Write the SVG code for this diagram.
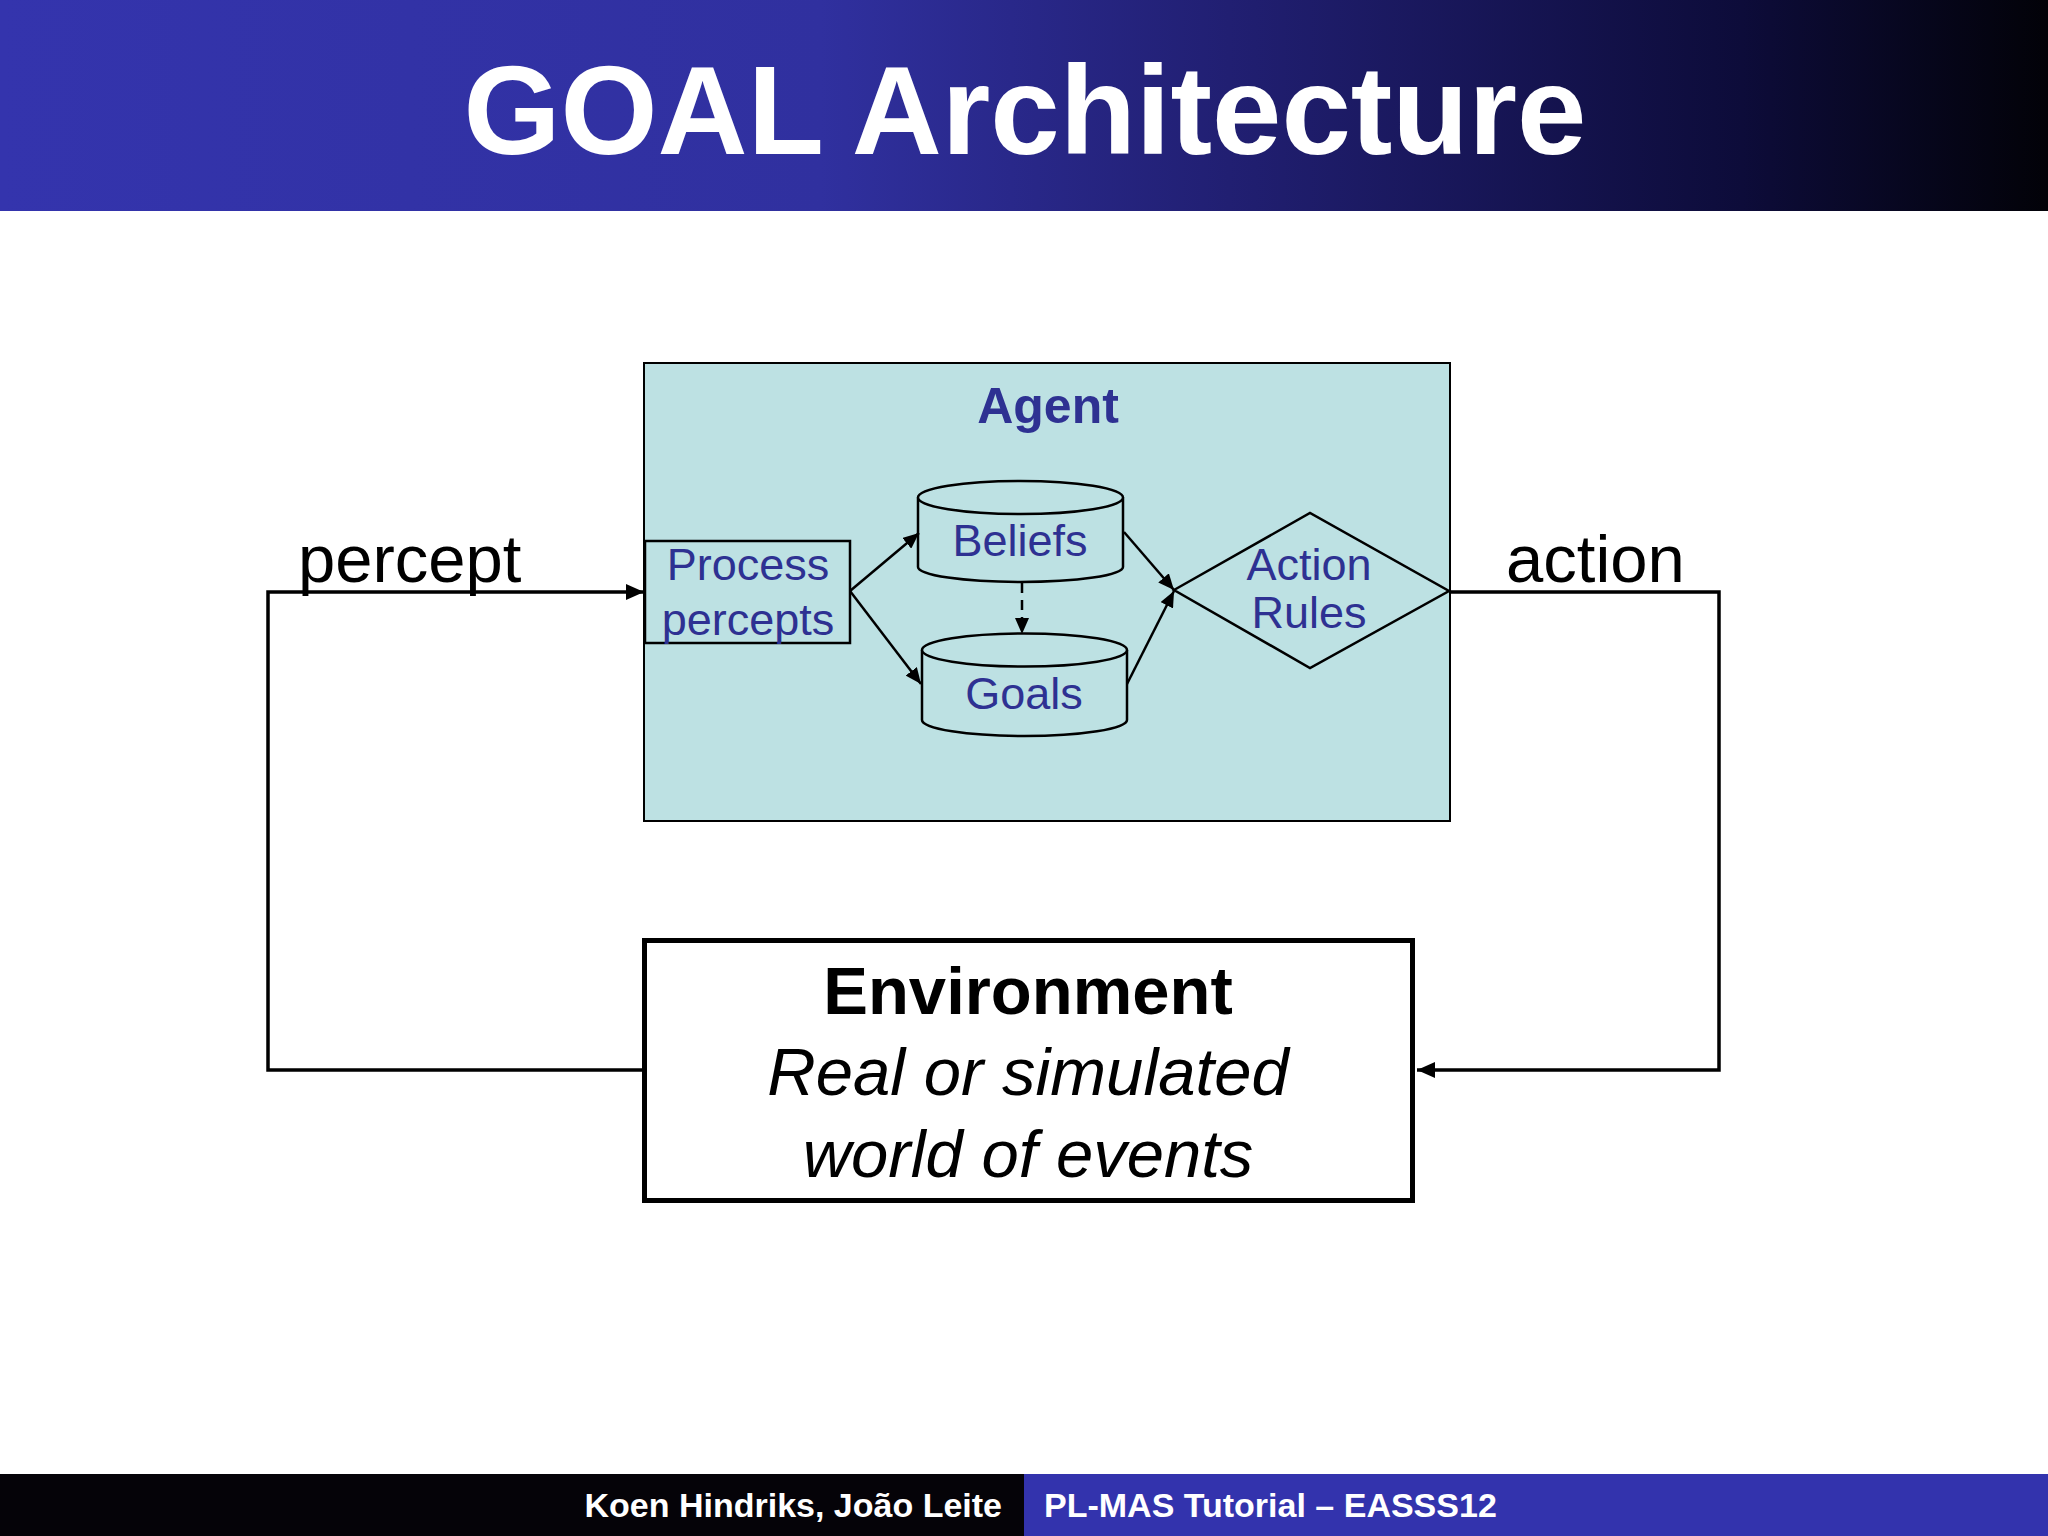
<svg xmlns="http://www.w3.org/2000/svg" width="2048" height="1536" viewBox="0 0 2048 1536">
<defs>
<linearGradient id="hdr" x1="0" y1="0" x2="1" y2="0">
<stop offset="0" stop-color="#3434ad"/>
<stop offset="0.4" stop-color="#30309f"/>
<stop offset="0.6" stop-color="#211f72"/>
<stop offset="0.85" stop-color="#0d0c3a"/>
<stop offset="1" stop-color="#020208"/>
</linearGradient>
<marker id="ah" markerUnits="userSpaceOnUse" viewBox="0 0 18 16" refX="18" refY="8" markerWidth="18" markerHeight="16" orient="auto">
<path d="M0,0 L18,8 L0,16 z" fill="#000"/>
</marker>
<marker id="ahs" markerUnits="userSpaceOnUse" viewBox="0 0 16 14" refX="16" refY="7" markerWidth="16" markerHeight="14" orient="auto">
<path d="M0,0 L16,7 L0,14 z" fill="#000"/>
</marker>
</defs>
<style>
.inner{font-family:"Liberation Sans",Arial,sans-serif;font-size:45px;fill:#2e3192;text-anchor:middle}
.shape{fill:#bde1e3;stroke:#000;stroke-width:2.5}
.conn{fill:none;stroke:#000;stroke-width:2.5}
.loop{fill:none;stroke:#000;stroke-width:3.5}
.big{font-family:"Liberation Sans",Arial,sans-serif;font-size:67px;fill:#000;text-anchor:middle}
.foot{font-family:"Liberation Sans",Arial,sans-serif;font-size:34px;font-weight:bold;fill:#fff}
</style>
<rect x="0" y="0" width="2048" height="1536" fill="#fff"/>
<g id="header">
<rect x="0" y="0" width="2048" height="211" fill="url(#hdr)"/>
<text x="1025" y="154" font-family="'Liberation Sans',Arial,sans-serif" font-weight="bold" font-size="126" fill="#fff" text-anchor="middle" textLength="1123" lengthAdjust="spacingAndGlyphs">GOAL Architecture</text>
</g>
<g id="agent">
<rect x="644" y="363" width="806" height="458" fill="#bde1e3" stroke="#000" stroke-width="2"/>
<text x="1048" y="423" font-family="'Liberation Sans',Arial,sans-serif" font-weight="bold" font-size="50" fill="#2e3192" text-anchor="middle">Agent</text>
</g>
<g id="process-percepts">
<rect class="shape" x="645" y="541" width="205" height="102"/>
<text class="inner" x="748" y="580">Process</text>
<text class="inner" x="748" y="635">percepts</text>
</g>
<g id="beliefs">
<path class="shape" d="M918,497.5 L918,567 A102.5,15 0 0 0 1123,567 L1123,497.5"/>
<ellipse class="shape" cx="1020.5" cy="497.5" rx="102.5" ry="16.5"/>
<text class="inner" x="1020" y="556">Beliefs</text>
</g>
<g id="goals">
<path class="shape" d="M922,650 L922,720 A102.5,16 0 0 0 1127,720 L1127,650"/>
<ellipse class="shape" cx="1024.5" cy="650" rx="102.5" ry="16.5"/>
<text class="inner" x="1024" y="709">Goals</text>
</g>
<g id="action-rules">
<polygon class="shape" points="1174,590 1310,513 1449,591 1310,668"/>
<text class="inner" x="1309" y="580">Action</text>
<text class="inner" x="1309" y="628">Rules</text>
</g>
<g id="environment">
<rect x="644.5" y="940.5" width="768" height="260" fill="#fff" stroke="#000" stroke-width="5"/>
<text class="big" x="1028" y="1014" font-weight="bold">Environment</text>
<text class="big" x="1028" y="1095" font-style="italic">Real or simulated</text>
<text class="big" x="1028" y="1177" font-style="italic">world of events</text>
</g>
<g id="connectors">
<polyline class="loop" points="642,1070 268,1070 268,592 644,592" marker-end="url(#ah)"/>
<polyline class="loop" points="1450,592 1719,592 1719,1070 1417,1070" marker-end="url(#ah)"/>
<line class="conn" x1="850" y1="591" x2="919" y2="533" marker-end="url(#ahs)"/>
<line class="conn" x1="850" y1="591" x2="921" y2="684" marker-end="url(#ahs)"/>
<line class="conn" x1="1124" y1="532" x2="1174" y2="590" marker-end="url(#ahs)"/>
<line class="conn" x1="1127" y1="684" x2="1174" y2="591" marker-end="url(#ahs)"/>
<line class="conn" x1="1022" y1="583" x2="1022" y2="634" stroke-dasharray="10,7" marker-end="url(#ahs)"/>
</g>
<g id="edge-labels">
<text x="298" y="582" font-family="'Liberation Sans',Arial,sans-serif" font-size="67" fill="#000">percept</text>
<text x="1506" y="582" font-family="'Liberation Sans',Arial,sans-serif" font-size="67" fill="#000">action</text>
</g>
<g id="footer">
<rect x="0" y="1474" width="1024" height="62" fill="#050308"/>
<rect x="1024" y="1474" width="1024" height="62" fill="#3333ad"/>
<text class="foot" x="1002" y="1517" text-anchor="end">Koen Hindriks, João Leite</text>
<text class="foot" x="1044" y="1517">PL-MAS Tutorial – EASSS12</text>
</g>
</svg>
